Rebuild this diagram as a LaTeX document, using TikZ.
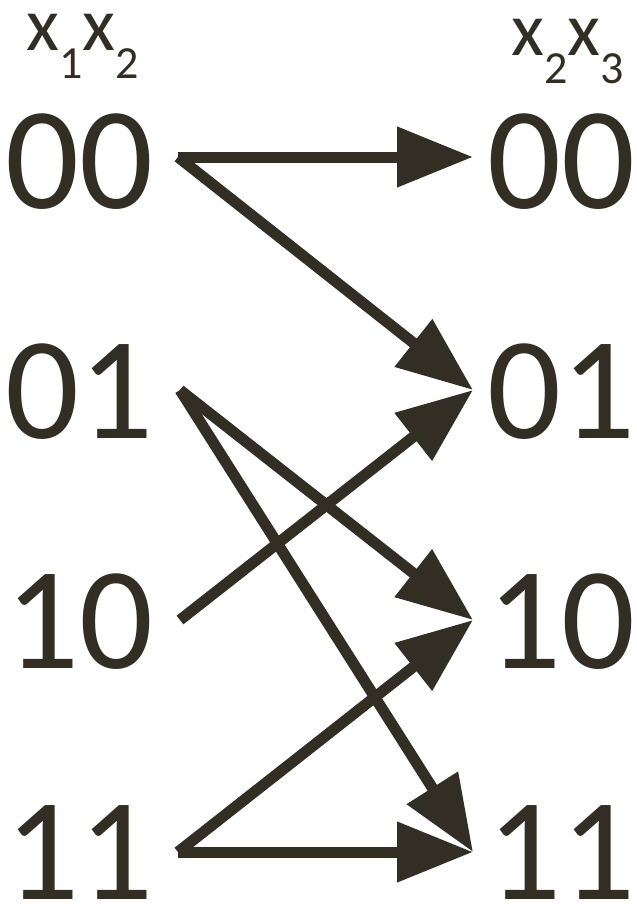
\documentclass[tikz,border=0pt]{standalone}
\usepackage{fontspec}
\setmainfont{Carlito}
\usetikzlibrary{arrows.meta}
\definecolor{ink}{HTML}{332E24}
\tikzset{
  big/.style={inner sep=0pt, anchor=base west, text=ink, font=\fontsize{146}{146}\selectfont},
  lab/.style={inner sep=0pt, anchor=base west, text=ink, font=\fontsize{76}{76}\selectfont},
  conn/.style={draw=ink, line width=11pt, line cap=butt,
    -{Triangle[length=76pt, width=58pt]}}
}
\newcommand{\subx}[1]{\raisebox{-28pt}{\fontsize{46}{46}\selectfont #1}}
\begin{document}
\begin{tikzpicture}[x=1pt, y=-1pt]
\useasboundingbox (0,0) rectangle (637,905);
% headers
\node[lab] (h1) at (26,50) {x\subx{1}x\subx{2}};
\node[lab] (h2) at (511,55) {x\subx{2}x\subx{3}};
% left column
\node[big] (a00) at (5,208) {00};
\node[big] (a01) at (5,438) {01};
\node[big] (a10) at (5,668) {10};
\node[big] (a11) at (5,899) {11};
% right column
\node[big] (b00) at (487,208) {00};
\node[big] (b01) at (487,438) {01};
\node[big] (b10) at (487,668) {10};
\node[big] (b11) at (487,899) {11};
% connector end points
\coordinate (s00) at (178,157);
\coordinate (s01) at (180,390);
\coordinate (s10) at (180,620);
\coordinate (s11) at (178,852);
\coordinate (t00) at (473,157);
\coordinate (t01) at (473,390);
\coordinate (t10) at (473,620);
\coordinate (t11) at (473,852);
% connectors
\draw[conn] (s00) -- (t00);
\draw[conn] (s00) -- (t01);
\draw[conn] (s01) -- (t10);
\draw[conn] (s01) -- (t11);
\draw[conn] (s10) -- (t01);
\draw[conn] (s11) -- (t10);
\draw[conn] (s11) -- (t11);
\end{tikzpicture}
\end{document}
